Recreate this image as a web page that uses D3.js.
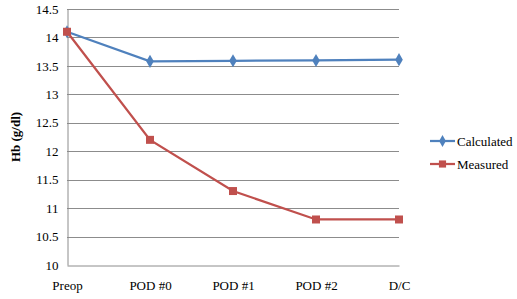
<!DOCTYPE html>
<html>
<head>
<meta charset="utf-8">
<script src="https://cdn.jsdelivr.net/npm/d3@7"></script>
<style>
  body { margin: 0; background: #fff; }
  svg, svg text { font-family: "Liberation Serif", "Times New Roman", serif; }
</style>
</head>
<body>
<div id="chart"></div>
<script>
const categories = ["Preop", "POD #0", "POD #1", "POD #2", "D/C"];
const calculated = [14.1, 13.58, 13.59, 13.595, 13.61];
const measured = [14.1, 12.2, 11.3, 10.8, 10.8];
const yTicks = [10, 10.5, 11, 11.5, 12, 12.5, 13, 13.5, 14, 14.5];

const width = 517, height = 299;
const serif = "'Liberation Serif', 'Times New Roman', serif";

const svg = d3.select("#chart")
    .append("svg")
    .attr("width", width)
    .attr("height", height)
    .attr("font-family", serif);

const xScale = d3.scalePoint()
    .domain(categories)
    .range([67, 399]);

const yScale = d3.scaleLinear()
    .domain([10, 14.5])
    .range([265, 9]);

// gridlines
svg.append("g")
    .selectAll("line")
    .data(yTicks.slice(1))
    .enter()
    .append("line")
    .attr("x1", 67)
    .attr("x2", 399)
    .attr("y1", d => Math.round(yScale(d)) + 0.5)
    .attr("y2", d => Math.round(yScale(d)) + 0.5)
    .attr("stroke", "#8c8c8c")
    .attr("stroke-width", 1);

// y axis
const yAxis = svg.append("g")
    .attr("transform", "translate(67.5,0)")
    .call(d3.axisLeft(yScale).tickValues(yTicks).tickSize(0).tickPadding(9)
        .tickFormat(d => d))
    .attr("font-family", serif)
    .attr("font-size", 13);
yAxis.select(".domain").attr("stroke", "#8c8c8c");
yAxis.selectAll("text").attr("fill", "#000");

// x axis
const xAxis = svg.append("g")
    .attr("transform", `translate(0,${Math.round(yScale(10)) + 0.5})`)
    .call(d3.axisBottom(xScale).tickSize(0).tickPadding(15))
    .attr("font-family", serif)
    .attr("font-size", 13);
xAxis.select(".domain").attr("stroke", "#8c8c8c");
xAxis.selectAll("text").attr("fill", "#000");

// y label
svg.append("text")
    .attr("transform", "translate(20,137) rotate(-90)")
    .attr("text-anchor", "middle")
    .attr("font-size", "13px")
    .attr("font-weight", "bold")
    .text("Hb (g/dl)");

const line = d3.line()
    .x((d, i) => xScale(categories[i]))
    .y(d => yScale(d));

const series = [
    {name: "Calculated", values: calculated, color: "#4F81BD", shape: d3.symbolDiamond, size: 50},
    {name: "Measured", values: measured, color: "#C0504D", shape: d3.symbolSquare, size: 64}
];

series.forEach(s => {
    svg.append("path")
        .datum(s.values)
        .attr("fill", "none")
        .attr("stroke", s.color)
        .attr("stroke-width", 2.25)
        .attr("d", line);

    svg.append("g")
        .selectAll("path")
        .data(s.values)
        .enter()
        .append("path")
        .attr("transform", (d, i) => `translate(${xScale(categories[i])},${yScale(d)})`)
        .attr("d", d3.symbol().type(s.shape).size(s.size))
        .attr("fill", s.color);
});

// legend
const legend = svg.append("g")
    .selectAll("g")
    .data(series)
    .enter()
    .append("g")
    .attr("transform", (d, i) => `translate(430,${141 + i * 23})`);

legend.append("line")
    .attr("x1", 0)
    .attr("x2", 25)
    .attr("stroke", d => d.color)
    .attr("stroke-width", 2.25);

legend.append("path")
    .attr("transform", "translate(12.5,0)")
    .attr("d", d => d3.symbol().type(d.shape).size(d.size * 0.8)())
    .attr("fill", d => d.color);

legend.append("text")
    .attr("x", 27)
    .attr("dy", "0.35em")
    .attr("font-size", "13px")
    .text(d => d.name);
</script>
</body>
</html>
